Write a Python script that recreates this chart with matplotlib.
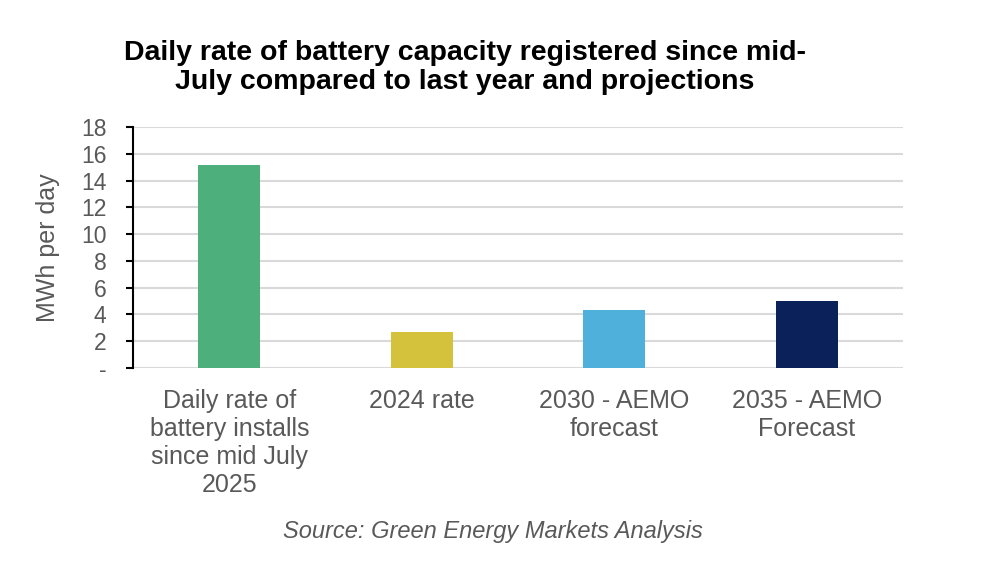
import numpy as np
import matplotlib.pyplot as plt

# Datos del gráfico
categories = ['Daily rate of\nbattery installs\nsince mid July\n2025', '2024 rate',
              '2030 - AEMO\nforecast', '2035 - AEMO\nForecast']
values = [15.2, 2.7, 4.3, 5.0]
colors = ['#4daf7c', '#d4c23c', '#4fb0dc', '#0a215a']
y_ticks = [0, 2, 4, 6, 8, 10, 12, 14, 16, 18]
y_tick_labels = ['-', '2', '4', '6', '8', '10', '12', '14', '16', '18']

plt.rcParams['font.family'] = ['Liberation Sans', 'DejaVu Sans']

fig = plt.figure(figsize=(10, 5.73), dpi=100)
ax = fig.add_axes([0.133, 0.358, 0.770, 0.420])

x = np.arange(len(categories))
ax.bar(x, values, width=0.32, color=colors, zorder=3)

ax.set_xlim(-0.5, len(categories) - 0.5)
ax.set_ylim(0, 18)
ax.set_yticks(y_ticks)
ax.set_yticklabels(y_tick_labels, fontsize=16.5, color='#595959')
ax.set_xticks(x)
ax.set_xticklabels(categories, fontsize=18, color='#595959', linespacing=1.22)
ax.tick_params(axis='x', length=0, pad=15)
ax.tick_params(axis='y', length=5, width=1.5, color='black', pad=14)

ax.grid(axis='y', color='#d9d9d9', linewidth=1.5, zorder=0)
for s in ['top', 'right', 'bottom']:
    ax.spines[s].set_visible(False)
ax.spines['left'].set_linewidth(1.5)
ax.spines['left'].set_color('black')

ax.set_ylabel('MWh per day', fontsize=18, color='#595959', labelpad=15)

fig.text(0.465, 0.882, 'Daily rate of battery capacity registered since mid-\nJuly compared to last year and projections',
         ha='center', va='center', fontsize=20.5, fontweight='bold', color='black',
         linespacing=1.12)

fig.text(0.493, 0.073, 'Source: Green Energy Markets Analysis', ha='center', va='center',
         fontsize=17, style='italic', color='#595959')

fig.savefig('out.png', dpi=100)
